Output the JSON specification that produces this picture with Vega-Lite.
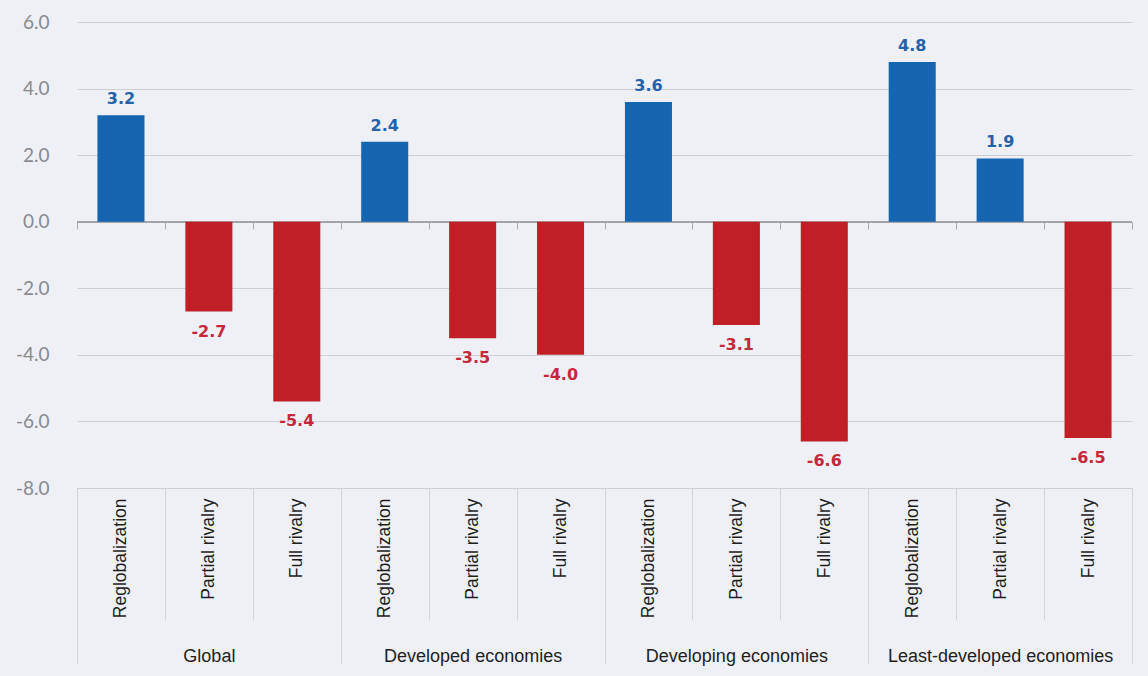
{
  "$schema": "https://vega.github.io/schema/vega-lite/v6.json",
  "width": 1055,
  "height": 466,
  "autosize": {"type": "none"},
  "padding": {"left": 77, "top": 22, "right": 16, "bottom": 188},
  "background": "#eef0f6",
  "config": {"view": {"stroke": null}},
  "data": {
    "values": [
      {"key": "Global|Reglobalization", "group": "Global", "scenario": "Reglobalization", "value": 3.2},
      {"key": "Global|Partial rivalry", "group": "Global", "scenario": "Partial rivalry", "value": -2.7},
      {"key": "Global|Full rivalry", "group": "Global", "scenario": "Full rivalry", "value": -5.4},
      {"key": "Developed economies|Reglobalization", "group": "Developed economies", "scenario": "Reglobalization", "value": 2.4},
      {"key": "Developed economies|Partial rivalry", "group": "Developed economies", "scenario": "Partial rivalry", "value": -3.5},
      {"key": "Developed economies|Full rivalry", "group": "Developed economies", "scenario": "Full rivalry", "value": -4.0},
      {"key": "Developing economies|Reglobalization", "group": "Developing economies", "scenario": "Reglobalization", "value": 3.6},
      {"key": "Developing economies|Partial rivalry", "group": "Developing economies", "scenario": "Partial rivalry", "value": -3.1},
      {"key": "Developing economies|Full rivalry", "group": "Developing economies", "scenario": "Full rivalry", "value": -6.6},
      {"key": "Least-developed economies|Reglobalization", "group": "Least-developed economies", "scenario": "Reglobalization", "value": 4.8},
      {"key": "Least-developed economies|Partial rivalry", "group": "Least-developed economies", "scenario": "Partial rivalry", "value": 1.9},
      {"key": "Least-developed economies|Full rivalry", "group": "Least-developed economies", "scenario": "Full rivalry", "value": -6.5}
    ]
  },
  "layer": [
    {
      "layer": [
        {
          "mark": {"type": "rule", "color": "#a3a3a8", "strokeWidth": 1.5},
          "encoding": {"y": {"datum": 0, "type": "quantitative"}}
        },
        {
          "mark": {"type": "bar", "width": {"band": 0.535}},
          "encoding": {
            "x": {
              "field": "key", "type": "nominal", "sort": null,
              "scale": {"paddingInner": 0, "paddingOuter": 0},
              "axis": {
                "orient": "bottom", "title": null, "domain": false,
                "tickBand": "extent", "tickSize": 131, "tickColor": "#d2d3d9", "tickWidth": 1,
                "labelAngle": 270, "labelPadding": -121, "labelLimit": 0,
                "labelExpr": "split(datum.label, '|')[1]",
                "labelFont": "Liberation Sans", "labelFontSize": 17.5, "labelColor": "#1e1e1e"
              }
            },
            "y": {
              "field": "value", "type": "quantitative",
              "scale": {"domain": [-8, 6], "nice": false, "zero": true},
              "axis": {
                "title": null, "values": [-8, -6, -4, -2, 0, 2, 4, 6], "format": ".1f",
                "labelExpr": "replace(datum.label, '−', '-')",
                "domain": false, "ticks": false, "grid": true, "gridColor": "#cfd0d6", "gridWidth": 1,
                "labelFont": "Lato", "labelFontSize": 19, "labelColor": "#8a8a8e", "labelPadding": 28
              }
            },
            "color": {
              "condition": {"test": "datum.value > 0", "value": "#1565b0"},
              "value": "#c01f26"
            }
          }
        },
        {
          "transform": [{"filter": "datum.value > 0"}],
          "mark": {"type": "text", "font": "DejaVu Sans", "fontWeight": "bold", "fontSize": 16, "baseline": "middle", "dy": -16, "color": "#2463a9"},
          "encoding": {
            "x": {"field": "key", "type": "nominal", "sort": null, "axis": null},
            "y": {"field": "value", "type": "quantitative"},
            "text": {"field": "value", "type": "quantitative", "format": ".1f"}
          }
        },
        {
          "transform": [{"filter": "datum.value < 0"}],
          "mark": {"type": "text", "font": "DejaVu Sans", "fontWeight": "bold", "fontSize": 16, "baseline": "middle", "dy": 20, "color": "#c6283a",
            "text": {"expr": "replace(format(datum.value, '.1f'), '−', '-')"}},
          "encoding": {
            "x": {"field": "key", "type": "nominal", "sort": null, "axis": null},
            "y": {"field": "value", "type": "quantitative"}
          }
        },
        {
          "mark": {"type": "bar", "opacity": 0},
          "encoding": {
            "x": {
              "field": "key", "type": "nominal", "sort": null,
              "axis": {
                "orient": "bottom", "offset": -266, "title": null, "domain": false, "labels": false,
                "tickBand": "extent", "tickSize": 7, "tickColor": "#a8a8ad", "tickWidth": 1
              }
            },
            "y": {"datum": 0, "type": "quantitative"}
          }
        }
      ],
      "resolve": {"axis": {"x": "independent"}}
    },
    {
      "mark": {"type": "bar", "opacity": 0},
      "encoding": {
        "x": {
          "field": "group", "type": "nominal", "sort": null,
          "scale": {"paddingInner": 0, "paddingOuter": 0},
          "axis": {
            "orient": "bottom", "title": null, "domain": false,
            "tickBand": "extent", "tickSize": 175, "tickColor": "#d2d3d9", "tickWidth": 1,
            "labelAngle": 0, "labelPadding": -16, "labelLimit": 0,
            "labelFont": "Liberation Sans", "labelFontSize": 18, "labelColor": "#1e1e1e"
          }
        }
      }
    }
  ],
  "resolve": {"scale": {"x": "independent"}}
}
